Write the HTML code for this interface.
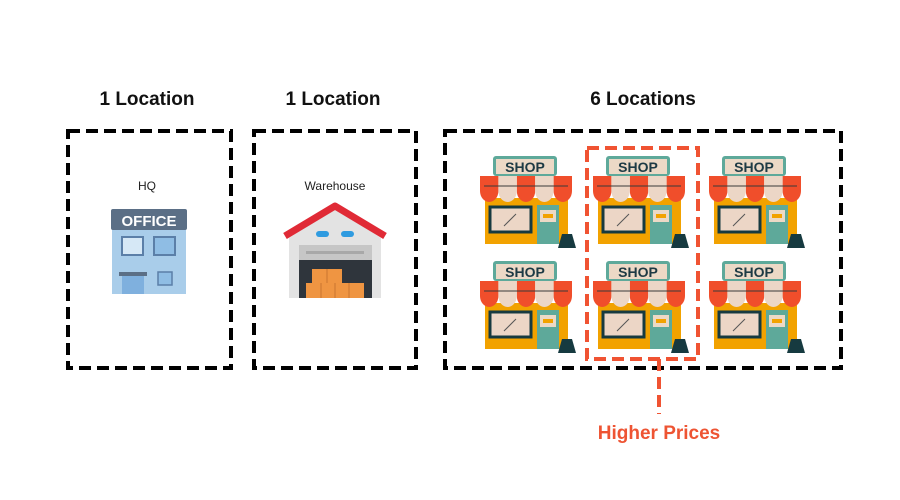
<!DOCTYPE html>
<html><head><meta charset="utf-8"><style>
html,body{margin:0;padding:0;background:#fff;}
svg{display:block;font-family:"Liberation Sans",sans-serif;}
</style></head><body>
<svg width="900" height="500" viewBox="0 0 900 500" xmlns="http://www.w3.org/2000/svg">
<rect width="900" height="500" fill="#fff"/>
<g font-weight="bold" font-size="19" fill="#111" text-anchor="middle">
<text x="147" y="105">1 Location</text>
<text x="333" y="105">1 Location</text>
<text x="643" y="105">6 Locations</text>
</g>
<g fill="none" stroke="#000" stroke-width="4" stroke-dasharray="12,6">
<rect x="68" y="131" width="163" height="237"/>
<rect x="254" y="131" width="162" height="237"/>
<rect x="445" y="131" width="396" height="237"/>
</g>
<text x="147" y="190" font-size="12" text-anchor="middle" fill="#222">HQ</text>
<text x="335" y="190" font-size="12" text-anchor="middle" fill="#222">Warehouse</text>
<g>
<rect x="112" y="222" width="74" height="72" fill="#a9cdea"/>
<rect x="111" y="209" width="76" height="21" rx="2" fill="#5b6f86"/>
<text x="149" y="226" font-size="15" font-weight="bold" fill="#fff" text-anchor="middle">OFFICE</text>
<rect x="122" y="237" width="21" height="18" fill="#d6e8f6" stroke="#5b7fa8" stroke-width="2"/>
<rect x="154" y="237" width="21" height="18" fill="#8fbde4" stroke="#5b7fa8" stroke-width="2"/>
<rect x="119" y="272" width="28" height="4" fill="#5b6f86"/>
<rect x="122" y="276" width="22" height="18" fill="#7fb0de"/>
<rect x="158" y="272" width="14" height="13" fill="#8fbde4" stroke="#5b7fa8" stroke-width="1.5"/>
</g>
<g>
<polygon points="289,238 335,208 381,238 381,298 289,298" fill="#e3e3e3"/>
<polyline points="285,236 335,206 385,236" fill="none" stroke="#e02a36" stroke-width="7" stroke-linejoin="round"/>
<rect x="316" y="231" width="13" height="6" rx="3" fill="#2f9be0"/>
<rect x="341" y="231" width="13" height="6" rx="3" fill="#2f9be0"/>
<rect x="299" y="245" width="73" height="53" fill="#c6c6c6"/>
<rect x="306" y="251" width="58" height="3" fill="#a8a8a8"/>
<rect x="299" y="260" width="73" height="38" fill="#2f353c"/>
<rect x="312" y="269" width="30" height="14" fill="#ef9542"/>
<rect x="306" y="283" width="58" height="15" fill="#ef9542"/>
<g stroke="#c97530" stroke-width="1"><line x1="327" y1="269" x2="327" y2="283"/><line x1="321" y1="283" x2="321" y2="298"/><line x1="335" y1="283" x2="335" y2="298"/><line x1="349" y1="283" x2="349" y2="298"/></g>
</g>
<g transform="translate(480,156)">
<rect x="13" y="0" width="64" height="20" rx="3" fill="#5ea99a"/><rect x="16" y="3" width="58" height="15" fill="#ecd9c6"/><text x="45" y="16" text-anchor="middle" font-size="14" font-weight="bold" fill="#1d3a44">SHOP</text>
<rect x="5" y="42" width="83" height="46" fill="#f2a200"/><rect x="57" y="49" width="22" height="39" fill="#5ea99a"/><rect x="60" y="54" width="16" height="12" fill="#ecd9c6"/><rect x="63" y="58" width="10" height="4" fill="#f2a200"/>
<rect x="10" y="51" width="41" height="25" fill="#ecd6c6" stroke="#163a40" stroke-width="3"/><line x1="24" y1="70" x2="36" y2="58" stroke="#555" stroke-width="1"/>
<path d="M0,35 L0,20 L18.4,20 L18.4,35 A9.2,11 0 0 1 0,35Z M36.8,35 L36.8,20 L55.2,20 L55.2,35 A9.2,11 0 0 1 36.8,35Z M73.6,35 L73.6,20 L92,20 L92,35 A9.2,11 0 0 1 73.6,35Z" fill="#f04e2b"/>
<path d="M18.4,35 L18.4,20 L36.8,20 L36.8,35 A9.2,11 0 0 1 18.4,35Z M55.2,35 L55.2,20 L73.6,20 L73.6,35 A9.2,11 0 0 1 55.2,35Z" fill="#ecd6c6"/>
<line x1="4" y1="30" x2="88" y2="30" stroke="#3a3a3a" stroke-width="1"/>
<polygon points="78,92 82,78 92,78 96,92" fill="#163a40"/>
</g>
<g transform="translate(593,156)">
<rect x="13" y="0" width="64" height="20" rx="3" fill="#5ea99a"/><rect x="16" y="3" width="58" height="15" fill="#ecd9c6"/><text x="45" y="16" text-anchor="middle" font-size="14" font-weight="bold" fill="#1d3a44">SHOP</text>
<rect x="5" y="42" width="83" height="46" fill="#f2a200"/><rect x="57" y="49" width="22" height="39" fill="#5ea99a"/><rect x="60" y="54" width="16" height="12" fill="#ecd9c6"/><rect x="63" y="58" width="10" height="4" fill="#f2a200"/>
<rect x="10" y="51" width="41" height="25" fill="#ecd6c6" stroke="#163a40" stroke-width="3"/><line x1="24" y1="70" x2="36" y2="58" stroke="#555" stroke-width="1"/>
<path d="M0,35 L0,20 L18.4,20 L18.4,35 A9.2,11 0 0 1 0,35Z M36.8,35 L36.8,20 L55.2,20 L55.2,35 A9.2,11 0 0 1 36.8,35Z M73.6,35 L73.6,20 L92,20 L92,35 A9.2,11 0 0 1 73.6,35Z" fill="#f04e2b"/>
<path d="M18.4,35 L18.4,20 L36.8,20 L36.8,35 A9.2,11 0 0 1 18.4,35Z M55.2,35 L55.2,20 L73.6,20 L73.6,35 A9.2,11 0 0 1 55.2,35Z" fill="#ecd6c6"/>
<line x1="4" y1="30" x2="88" y2="30" stroke="#3a3a3a" stroke-width="1"/>
<polygon points="78,92 82,78 92,78 96,92" fill="#163a40"/>
</g>
<g transform="translate(709,156)">
<rect x="13" y="0" width="64" height="20" rx="3" fill="#5ea99a"/><rect x="16" y="3" width="58" height="15" fill="#ecd9c6"/><text x="45" y="16" text-anchor="middle" font-size="14" font-weight="bold" fill="#1d3a44">SHOP</text>
<rect x="5" y="42" width="83" height="46" fill="#f2a200"/><rect x="57" y="49" width="22" height="39" fill="#5ea99a"/><rect x="60" y="54" width="16" height="12" fill="#ecd9c6"/><rect x="63" y="58" width="10" height="4" fill="#f2a200"/>
<rect x="10" y="51" width="41" height="25" fill="#ecd6c6" stroke="#163a40" stroke-width="3"/><line x1="24" y1="70" x2="36" y2="58" stroke="#555" stroke-width="1"/>
<path d="M0,35 L0,20 L18.4,20 L18.4,35 A9.2,11 0 0 1 0,35Z M36.8,35 L36.8,20 L55.2,20 L55.2,35 A9.2,11 0 0 1 36.8,35Z M73.6,35 L73.6,20 L92,20 L92,35 A9.2,11 0 0 1 73.6,35Z" fill="#f04e2b"/>
<path d="M18.4,35 L18.4,20 L36.8,20 L36.8,35 A9.2,11 0 0 1 18.4,35Z M55.2,35 L55.2,20 L73.6,20 L73.6,35 A9.2,11 0 0 1 55.2,35Z" fill="#ecd6c6"/>
<line x1="4" y1="30" x2="88" y2="30" stroke="#3a3a3a" stroke-width="1"/>
<polygon points="78,92 82,78 92,78 96,92" fill="#163a40"/>
</g>
<g transform="translate(480,261)">
<rect x="13" y="0" width="64" height="20" rx="3" fill="#5ea99a"/><rect x="16" y="3" width="58" height="15" fill="#ecd9c6"/><text x="45" y="16" text-anchor="middle" font-size="14" font-weight="bold" fill="#1d3a44">SHOP</text>
<rect x="5" y="42" width="83" height="46" fill="#f2a200"/><rect x="57" y="49" width="22" height="39" fill="#5ea99a"/><rect x="60" y="54" width="16" height="12" fill="#ecd9c6"/><rect x="63" y="58" width="10" height="4" fill="#f2a200"/>
<rect x="10" y="51" width="41" height="25" fill="#ecd6c6" stroke="#163a40" stroke-width="3"/><line x1="24" y1="70" x2="36" y2="58" stroke="#555" stroke-width="1"/>
<path d="M0,35 L0,20 L18.4,20 L18.4,35 A9.2,11 0 0 1 0,35Z M36.8,35 L36.8,20 L55.2,20 L55.2,35 A9.2,11 0 0 1 36.8,35Z M73.6,35 L73.6,20 L92,20 L92,35 A9.2,11 0 0 1 73.6,35Z" fill="#f04e2b"/>
<path d="M18.4,35 L18.4,20 L36.8,20 L36.8,35 A9.2,11 0 0 1 18.4,35Z M55.2,35 L55.2,20 L73.6,20 L73.6,35 A9.2,11 0 0 1 55.2,35Z" fill="#ecd6c6"/>
<line x1="4" y1="30" x2="88" y2="30" stroke="#3a3a3a" stroke-width="1"/>
<polygon points="78,92 82,78 92,78 96,92" fill="#163a40"/>
</g>
<g transform="translate(593,261)">
<rect x="13" y="0" width="64" height="20" rx="3" fill="#5ea99a"/><rect x="16" y="3" width="58" height="15" fill="#ecd9c6"/><text x="45" y="16" text-anchor="middle" font-size="14" font-weight="bold" fill="#1d3a44">SHOP</text>
<rect x="5" y="42" width="83" height="46" fill="#f2a200"/><rect x="57" y="49" width="22" height="39" fill="#5ea99a"/><rect x="60" y="54" width="16" height="12" fill="#ecd9c6"/><rect x="63" y="58" width="10" height="4" fill="#f2a200"/>
<rect x="10" y="51" width="41" height="25" fill="#ecd6c6" stroke="#163a40" stroke-width="3"/><line x1="24" y1="70" x2="36" y2="58" stroke="#555" stroke-width="1"/>
<path d="M0,35 L0,20 L18.4,20 L18.4,35 A9.2,11 0 0 1 0,35Z M36.8,35 L36.8,20 L55.2,20 L55.2,35 A9.2,11 0 0 1 36.8,35Z M73.6,35 L73.6,20 L92,20 L92,35 A9.2,11 0 0 1 73.6,35Z" fill="#f04e2b"/>
<path d="M18.4,35 L18.4,20 L36.8,20 L36.8,35 A9.2,11 0 0 1 18.4,35Z M55.2,35 L55.2,20 L73.6,20 L73.6,35 A9.2,11 0 0 1 55.2,35Z" fill="#ecd6c6"/>
<line x1="4" y1="30" x2="88" y2="30" stroke="#3a3a3a" stroke-width="1"/>
<polygon points="78,92 82,78 92,78 96,92" fill="#163a40"/>
</g>
<g transform="translate(709,261)">
<rect x="13" y="0" width="64" height="20" rx="3" fill="#5ea99a"/><rect x="16" y="3" width="58" height="15" fill="#ecd9c6"/><text x="45" y="16" text-anchor="middle" font-size="14" font-weight="bold" fill="#1d3a44">SHOP</text>
<rect x="5" y="42" width="83" height="46" fill="#f2a200"/><rect x="57" y="49" width="22" height="39" fill="#5ea99a"/><rect x="60" y="54" width="16" height="12" fill="#ecd9c6"/><rect x="63" y="58" width="10" height="4" fill="#f2a200"/>
<rect x="10" y="51" width="41" height="25" fill="#ecd6c6" stroke="#163a40" stroke-width="3"/><line x1="24" y1="70" x2="36" y2="58" stroke="#555" stroke-width="1"/>
<path d="M0,35 L0,20 L18.4,20 L18.4,35 A9.2,11 0 0 1 0,35Z M36.8,35 L36.8,20 L55.2,20 L55.2,35 A9.2,11 0 0 1 36.8,35Z M73.6,35 L73.6,20 L92,20 L92,35 A9.2,11 0 0 1 73.6,35Z" fill="#f04e2b"/>
<path d="M18.4,35 L18.4,20 L36.8,20 L36.8,35 A9.2,11 0 0 1 18.4,35Z M55.2,35 L55.2,20 L73.6,20 L73.6,35 A9.2,11 0 0 1 55.2,35Z" fill="#ecd6c6"/>
<line x1="4" y1="30" x2="88" y2="30" stroke="#3a3a3a" stroke-width="1"/>
<polygon points="78,92 82,78 92,78 96,92" fill="#163a40"/>
</g>
<rect x="587" y="148" width="111" height="211" fill="none" stroke="#f05332" stroke-width="4" stroke-dasharray="12,6"/>
<line x1="659" y1="359" x2="659" y2="414" stroke="#f05332" stroke-width="4" stroke-dasharray="12,6"/>
<text x="659" y="439" font-size="19" font-weight="bold" fill="#ee5433" text-anchor="middle">Higher Prices</text>
</svg>
</body></html>
